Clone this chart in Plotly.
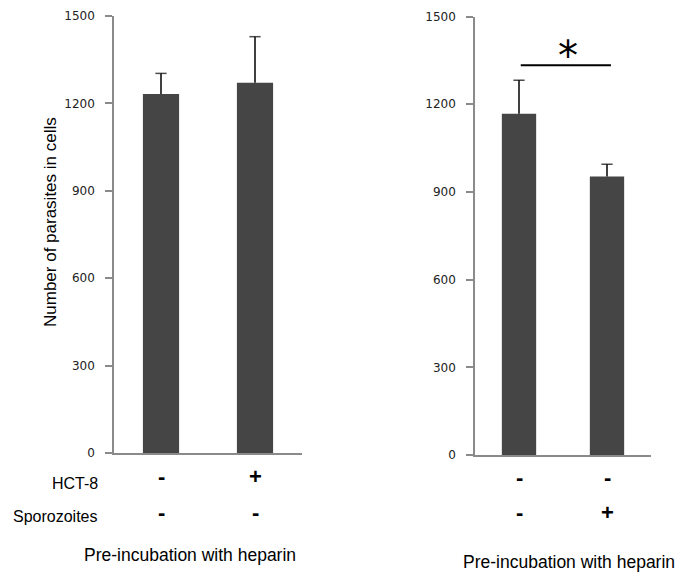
import plotly.graph_objects as go

# data
groups = [0, 1]
left_means = [1232, 1271]
left_err = [71, 158]
right_means = [1167, 953]
right_err = [115, 42]
hct8_left = ["-", "+"]
sporo_left = ["-", "-"]
hct8_right = ["-", "-"]
sporo_right = ["-", "+"]
y_ticks = [0, 300, 600, 900, 1200, 1500]
sig_y = 1333

W, H = 685, 577
OFF = 8  # page body margin


def fx(px):
    return (px - OFF) / W


def fy(py):
    return 1 - (py - OFF) / H


bar_color = "#454545"
fig = go.Figure()


def add_panel(means, errs, xa, ya, width):
    fig.add_trace(go.Bar(x=groups, y=means, width=width, marker=dict(color=bar_color, line=dict(width=0)),
                         xaxis=xa, yaxis=ya, showlegend=False))
    for g, m, e in zip(groups, means, errs):
        fig.add_trace(go.Scatter(x=[g, g], y=[m, m + e], mode="lines+markers",
                                 line=dict(color="black", width=1.5),
                                 marker=dict(symbol=["line-ew", "line-ew-open"], size=[0, 8],
                                             line=dict(color="black", width=1.5)),
                                 xaxis=xa, yaxis=ya, showlegend=False))


add_panel(left_means, left_err, "x", "y", 0.385)
add_panel(right_means, right_err, "x2", "y2", 0.39)

axis_common = dict(showline=True, linecolor="#8a8a8a", linewidth=1.5, showgrid=False, zeroline=False,
                   automargin=False)
yaxis_common = dict(axis_common, range=[0, 1500], tickvals=y_ticks, ticks="outside", ticklen=7,
                    tickcolor="#8a8a8a", tickwidth=1.5, ticklabelstandoff=8, ticklabeloverflow="allow",
                    tickfont=dict(family="DejaVu Sans", size=12, color="#222"))

fig.update_layout(
    width=W, height=H,
    margin=dict(l=0, r=0, t=0, b=0, pad=0, autoexpand=False),
    plot_bgcolor="white", paper_bgcolor="white",
    xaxis=dict(axis_common, domain=[fx(114), fx(302)], range=[-0.5, 1.5], showticklabels=False, ticks="", anchor="y"),
    yaxis=dict(yaxis_common, domain=[fy(453), fy(16)], anchor="x"),
    xaxis2=dict(axis_common, domain=[fx(475), fx(651)], range=[-0.5, 1.5], showticklabels=False, ticks="", anchor="y2"),
    yaxis2=dict(yaxis_common, domain=[fy(455), fy(16.5)], anchor="x2"),
)

sign_font = dict(family="Liberation Sans", size=22, color="black")
label_font = dict(family="Liberation Sans", size=16, color="black")
foot_font = dict(family="Liberation Sans", size=17.5, color="black")


def note(x, y, text, font, xref="paper", **kw):
    fig.add_annotation(x=x, y=y, xref=xref, yref="paper", text=text, showarrow=False, font=font,
                       yanchor="middle", **kw)


for i, g in enumerate(groups):
    note(g, fy(476), "<b>%s</b>" % hct8_left[i], sign_font, xref="x", xanchor="center")
    note(g, fy(512), "<b>%s</b>" % sporo_left[i], sign_font, xref="x", xanchor="center")
    note(g, fy(477), "<b>%s</b>" % hct8_right[i], sign_font, xref="x2", xanchor="center")
    note(g, fy(512), "<b>%s</b>" % sporo_right[i], sign_font, xref="x2", xanchor="center")

note(fx(100), fy(483), "HCT-8", label_font, xanchor="right")
note(fx(100), fy(516), "Sporozoites", label_font, xanchor="right")
note(fx(190), fy(555), "Pre-incubation with heparin", foot_font, xanchor="center")
note(fx(569), fy(562), "Pre-incubation with heparin", foot_font, xanchor="center")
note(fx(50), fy(222), "Number of parasites in cells", dict(family="Liberation Sans", size=17, color="black"),
     xanchor="center", textangle=-90)

# significance bar
fig.add_shape(type="line", xref="x2", yref="y2", x0=0.02, x1=1.045, y0=sig_y, y1=sig_y,
              line=dict(color="black", width=2))
note(fx(568), fy(56), "*", dict(family="DejaVu Sans", size=40, color="black"), xanchor="center")

fig.write_html("out.html")
